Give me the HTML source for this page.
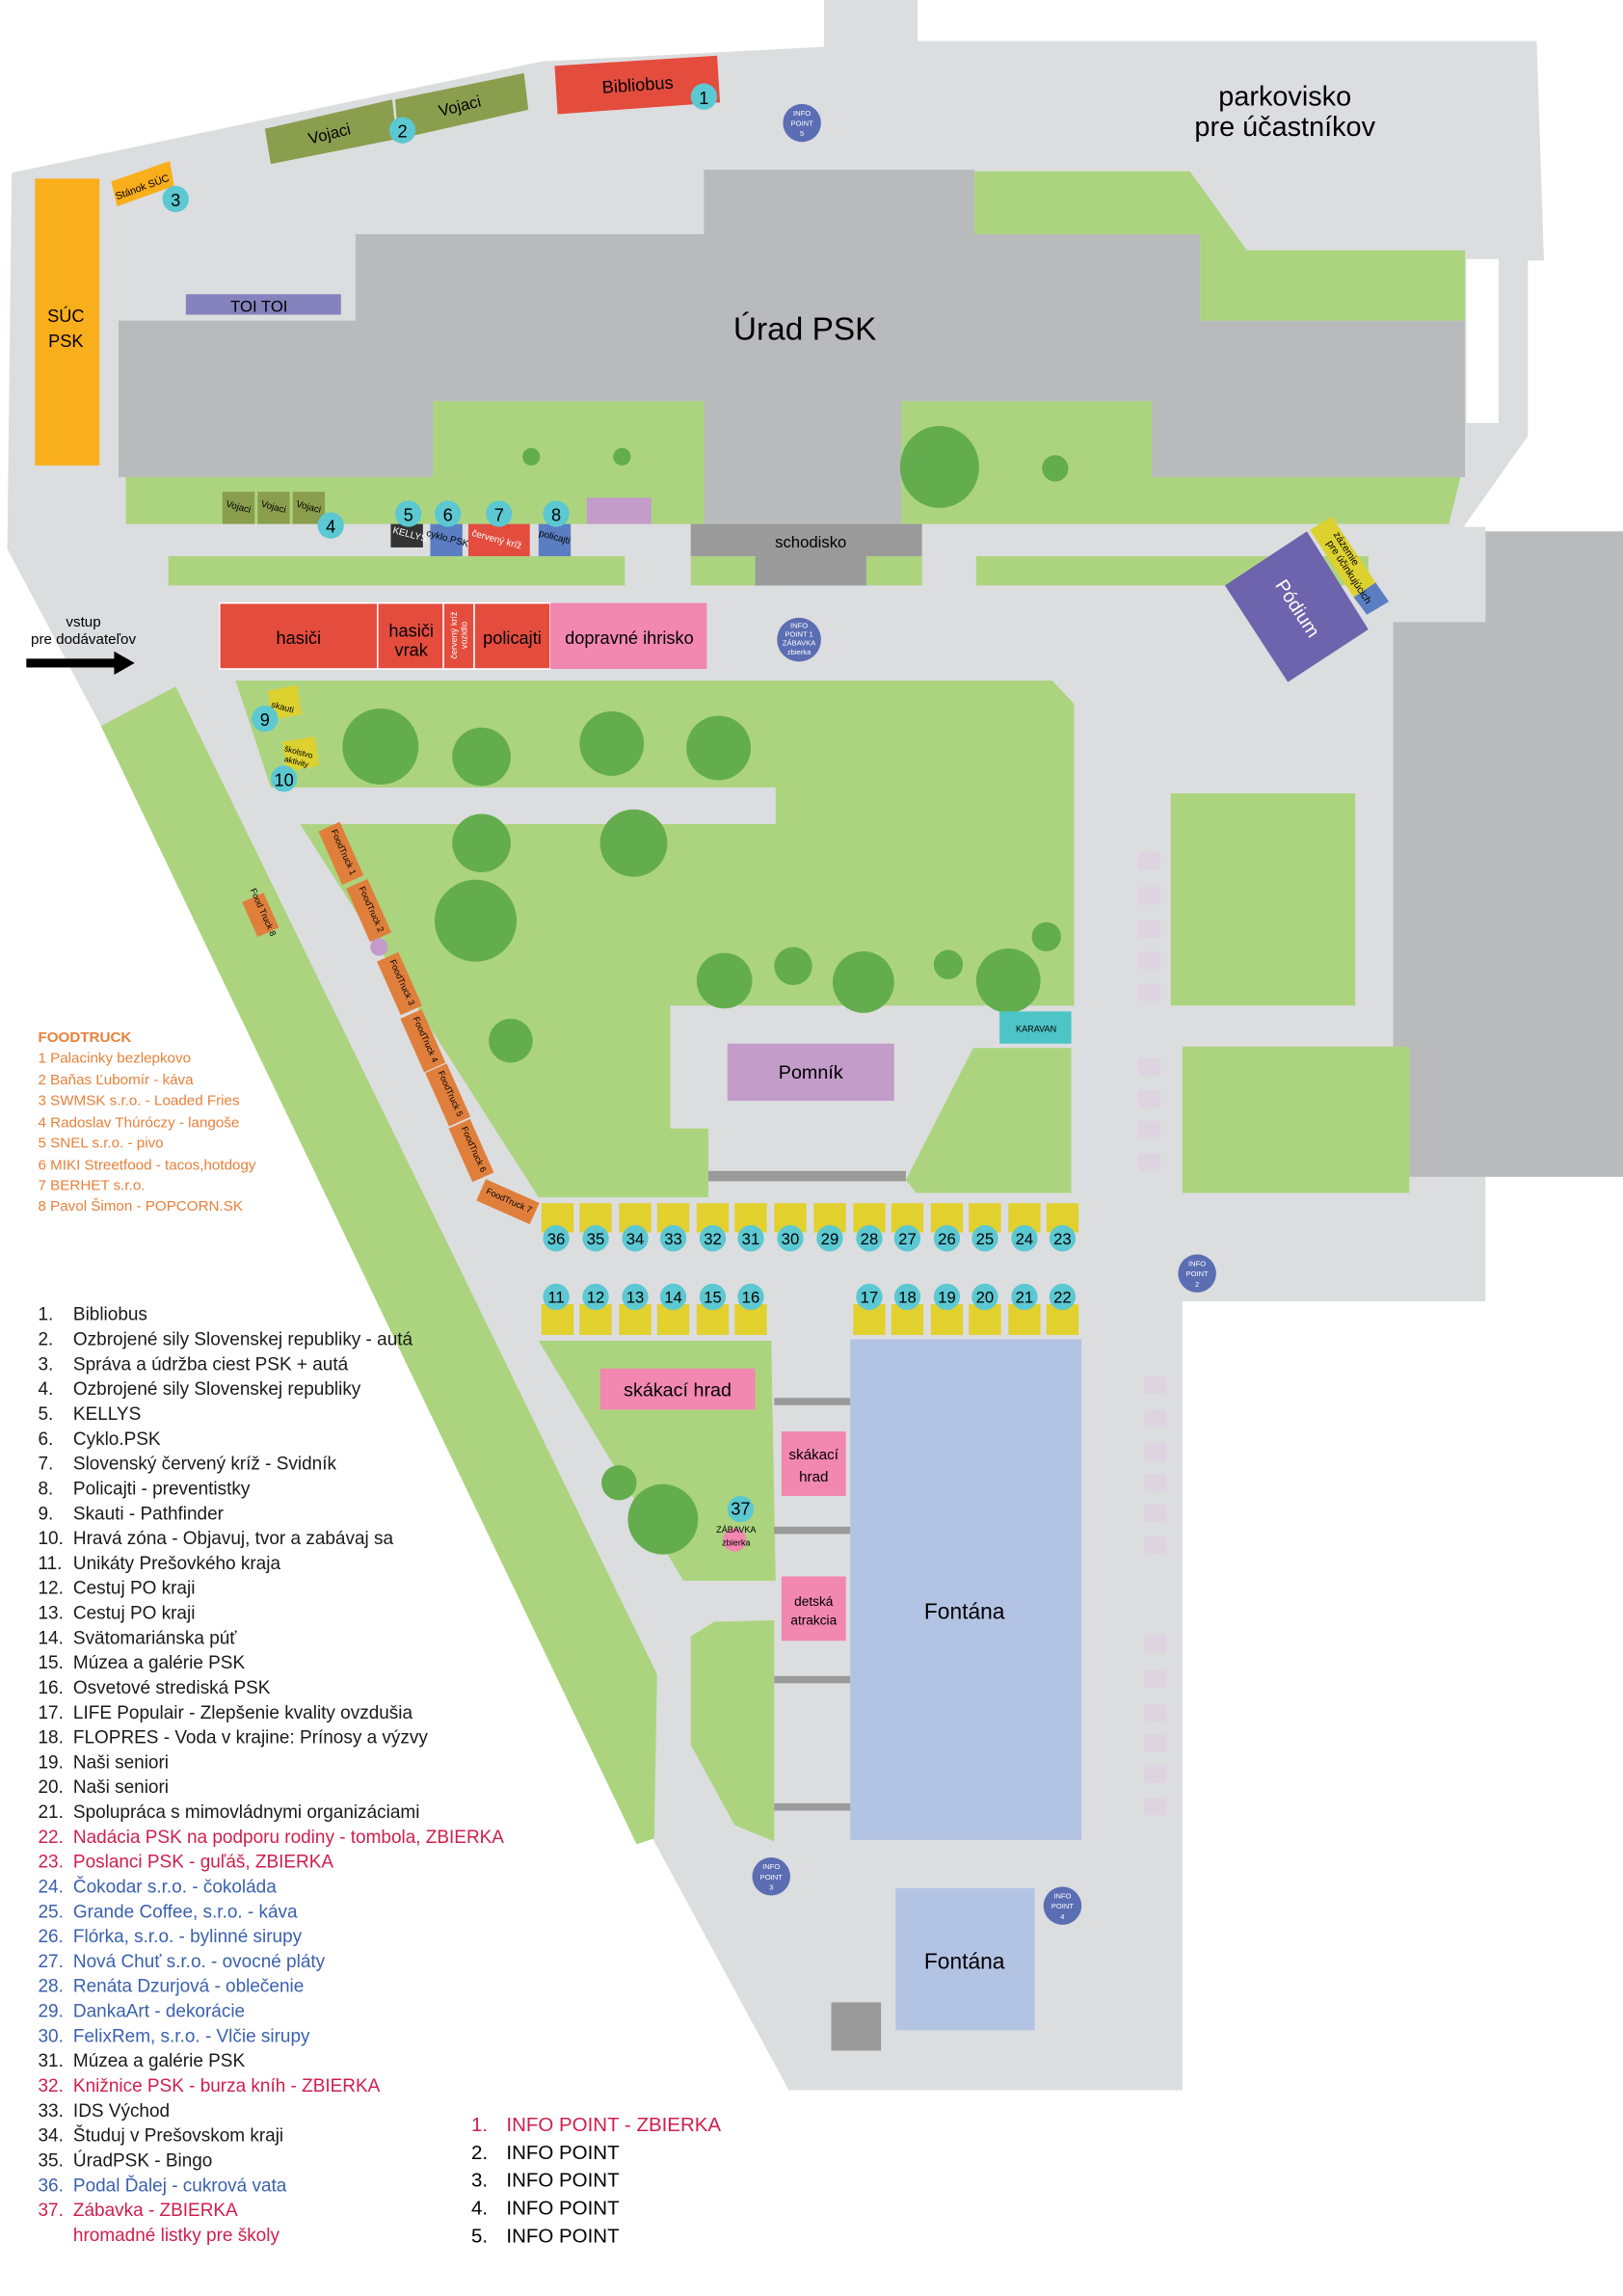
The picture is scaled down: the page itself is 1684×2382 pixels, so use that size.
<!DOCTYPE html>
<html><head><meta charset="utf-8"><style>
html,body{margin:0;padding:0;background:#fff}
svg{display:block}
text{font-family:"Liberation Sans",sans-serif}
</style></head><body>
<svg width="1684" height="2382" viewBox="0 0 1109 1568.6" preserveAspectRatio="none" xmlns="http://www.w3.org/2000/svg">
<polygon fill="#dcdddf" points="8,118 370,42 563,32 563,0 627,0 627,28 1050,28 1055,178 1044,178 1044,298 1000,360 1015,360 1015,889 808,889 808,1428 539,1428 447,1258 69,496 5,375"/>
<rect x="1002" y="177" width="22" height="112" fill="#fff"/>
<polygon fill="#b9babc" points="1015,363 1109,363 1109,804 952,804 952,425 1015,425"/>
<polygon fill="#b9babc" points="481,116 666,116 666,160 820,160 820,219 1001,219 1001,326 787,326 787,274 616,274 616,358 481,358 481,274 296,274 296,326 81,326 81,219 243,219 243,160 481,160"/>
<g fill="#acd47f">
<polygon points="666,117 813,117 852,171 1001,171 1001,219 820,219 820,160 666,160"/>
<polygon points="86,326 296,326 296,274 481,274 481,358 86,358"/>
<polygon points="616,274 787,274 787,326 998,326 990,358 616,358"/>
<rect x="115" y="380" width="312" height="20"/>
<rect x="472" y="380" width="44" height="20"/>
<rect x="592" y="380" width="38" height="20"/>
<rect x="667" y="380" width="268" height="20"/>
</g>
<rect x="472" y="358" width="158" height="22" fill="#9a9a9b"/>
<rect x="516" y="380" width="76" height="20" fill="#9a9a9b"/>
<text x="554" y="374" font-size="11" text-anchor="middle">schodisko</text>
<g fill="#64ad4e">
<ellipse cx="363" cy="312" rx="6" ry="6"/><ellipse cx="425" cy="312" rx="6" ry="6"/>
<ellipse cx="642" cy="319" rx="27" ry="28"/><ellipse cx="721" cy="320" rx="9" ry="9"/>
</g>
<polygon fill="#e44c3e" points="379,45 490,38 492,70 381,78"/>
<text x="436" y="62" font-size="12" text-anchor="middle" transform="rotate(-4 436 62)">Bibliobus</text>
<polygon fill="#8a9e4e" points="181,88 268,68 271,95 185,112"/>
<polygon fill="#8a9e4e" points="270,68 358,50 361,75 272,95"/>
<text x="226" y="95" font-size="11" text-anchor="middle" transform="rotate(-14 226 95)">Vojaci</text>
<text x="315" y="76" font-size="11" text-anchor="middle" transform="rotate(-14 315 76)">Vojaci</text>
<polygon fill="#f9ae1b" points="76,124 116,110 119,127 80,141"/>
<text x="98" y="130" font-size="7" text-anchor="middle" transform="rotate(-20 98 130)">Stánok SÚC</text>
<rect x="24" y="122" width="44" height="196" fill="#f9ae1b"/>
<text x="45" y="220" font-size="12" text-anchor="middle">SÚC</text>
<text x="45" y="237" font-size="12" text-anchor="middle">PSK</text>
<rect x="127" y="201" width="106" height="14" fill="#8582be"/>
<text x="177" y="213" font-size="11" text-anchor="middle">TOI TOI</text>
<text x="878" y="72" font-size="19" text-anchor="middle">parkovisko</text>
<text x="878" y="93" font-size="19" text-anchor="middle">pre účastníkov</text>
<text x="550" y="232" font-size="22" text-anchor="middle">Úrad PSK</text>
<g fill="#8a9e4e"><rect x="152" y="336" width="22" height="22"/><rect x="176" y="336" width="22" height="22"/><rect x="200" y="336" width="22" height="22"/></g>
<g font-size="6.5"><text x="154" y="346" transform="rotate(15 154 346)">Vojaci</text><text x="178" y="346" transform="rotate(15 178 346)">Vojaci</text><text x="202" y="346" transform="rotate(15 202 346)">Vojaci</text></g>
<rect x="267" y="358" width="22" height="16" fill="#333"/>
<rect x="294" y="358" width="22" height="22" fill="#5b7ec2"/>
<rect x="320" y="358" width="42" height="22" fill="#e44c3e"/>
<rect x="368" y="358" width="22" height="22" fill="#5b7ec2"/>
<rect x="401" y="340" width="44" height="18" fill="#c39cc9"/>
<g font-size="6.5"><text x="268" y="364" fill="#fff" transform="rotate(15 268 364)">KELLYS</text><text x="291" y="366" transform="rotate(15 291 366)">cyklo.PSK</text><text x="322" y="366" fill="#fff" transform="rotate(15 322 366)">červený kríž</text><text x="368" y="366" transform="rotate(15 368 366)">policajti</text></g>
<g fill="#e44c3e" stroke="#fff" stroke-width="1"><rect x="150" y="412" width="108" height="45"/><rect x="258" y="412" width="45" height="45"/><rect x="303" y="412" width="21" height="45"/><rect x="324" y="412" width="52" height="45"/></g>
<rect x="376" y="412" width="107" height="45" fill="#f287b0"/>
<g font-size="12" text-anchor="middle"><text x="204" y="440">hasiči</text><text x="281" y="435">hasiči</text><text x="281" y="448">vrak</text><text x="350" y="440">policajti</text><text x="430" y="440">dopravné ihrisko</text></g>
<text x="0" y="0" font-size="6" fill="#fff" text-anchor="middle" transform="translate(312 434) rotate(-90)">červený kríž</text>
<text x="0" y="0" font-size="6" fill="#fff" text-anchor="middle" transform="translate(319 434) rotate(-90)">vozidlo</text>
<text x="57" y="428" font-size="10" text-anchor="middle">vstup</text>
<text x="57" y="440" font-size="10" text-anchor="middle">pre dodávateľov</text>
<rect x="18" y="450" width="62" height="6" fill="#000"/>
<polygon points="78,445 92,453 78,461" fill="#000"/>
<polygon fill="#6e63ad" points="837,400 893,363 935,430 880,466"/>
<polygon fill="#ddd12f" points="895,362 910,353 940,398 925,408"/>
<polygon fill="#5b7ec2" points="925,408 940,398 949,411 934,420"/>
<text x="0" y="0" font-size="13" fill="#fff" text-anchor="middle" transform="translate(883 418) rotate(57)">Pódium</text>
<text x="0" y="0" font-size="7" text-anchor="middle" transform="translate(918 376) rotate(57)">zázemie</text>
<text x="0" y="0" font-size="7" text-anchor="middle" transform="translate(920 392) rotate(57)">pre účinkujúcich</text>
<polygon fill="#acd47f" points="69,496 120,469 309,856 449,1144 447,1256 435,1260"/>
<polygon fill="#acd47f" points="161,465 719,465 734,481 734,687 458,687 458,771 484,771 484,818 368,818 205,563 530,563 530,538 185,538"/>
<polygon fill="#acd47f" points="665,716 732,716 732,815 626,815 619,806"/>
<rect x="484" y="800" width="135" height="7" fill="#9a9a9b"/>
<g fill="#64ad4e">
<circle cx="260" cy="510" r="26"/><circle cx="329" cy="517" r="20"/><circle cx="418" cy="508" r="22"/><circle cx="491" cy="511" r="22"/>
<circle cx="329" cy="576" r="20"/><circle cx="433" cy="576" r="23"/><circle cx="325" cy="629" r="28"/>
<circle cx="495" cy="670" r="19"/><circle cx="542" cy="660" r="13"/><circle cx="590" cy="671" r="21"/><circle cx="648" cy="659" r="10"/><circle cx="689" cy="670" r="22"/><circle cx="715" cy="640" r="10"/><circle cx="349" cy="711" r="15"/>
</g>
<rect x="683" y="691" width="49" height="22" fill="#4dc4c5"/>
<text x="708" y="705" font-size="6" text-anchor="middle">KARAVAN</text>
<rect x="497" y="713" width="114" height="39" fill="#c39cc9"/>
<text x="554" y="737" font-size="13" text-anchor="middle">Pomník</text>
<rect x="800" y="542" width="126" height="145" fill="#acd47f"/>
<rect x="808" y="715" width="155" height="100" fill="#acd47f"/>
<g fill="#ddd4e0">
<rect x="778" y="582" width="15" height="12"/><rect x="778" y="606" width="15" height="12"/><rect x="778" y="629" width="15" height="12"/><rect x="778" y="650" width="15" height="12"/><rect x="778" y="672" width="15" height="12"/>
<rect x="778" y="723" width="15" height="12"/><rect x="778" y="745" width="15" height="12"/><rect x="778" y="766" width="15" height="12"/><rect x="778" y="788" width="15" height="12"/>
<rect x="782" y="940" width="15" height="12"/><rect x="782" y="963" width="15" height="12"/><rect x="782" y="986" width="15" height="12"/><rect x="782" y="1007" width="15" height="12"/><rect x="782" y="1028" width="15" height="12"/><rect x="782" y="1050" width="15" height="12"/>
<rect x="782" y="1117" width="15" height="12"/><rect x="782" y="1141" width="15" height="12"/><rect x="782" y="1164" width="15" height="12"/><rect x="782" y="1185" width="15" height="12"/><rect x="782" y="1206" width="15" height="12"/><rect x="782" y="1228" width="15" height="12"/>
</g>
<g fill="#e07f3c">
<rect x="-8" y="-20" width="16" height="40" transform="translate(233 583) rotate(-24)"/>
<rect x="-8" y="-20" width="16" height="40" transform="translate(252 622) rotate(-24)"/>
<rect x="-8" y="-20" width="16" height="40" transform="translate(273 672) rotate(-24)"/>
<rect x="-8" y="-20" width="16" height="40" transform="translate(289 711) rotate(-24)"/>
<rect x="-8" y="-20" width="16" height="40" transform="translate(306 748) rotate(-24)"/>
<rect x="-8" y="-20" width="16" height="40" transform="translate(322 786) rotate(-24)"/>
<rect x="-8" y="-20" width="16" height="40" transform="translate(347 821) rotate(-66)"/>
<rect x="-8" y="-13" width="16" height="26" transform="translate(178 625) rotate(-24)"/>
</g>
<g font-size="6">
<text text-anchor="middle" transform="translate(233 583) rotate(66)">FoodTruck 1</text>
<text text-anchor="middle" transform="translate(252 622) rotate(66)">FoodTruck 2</text>
<text text-anchor="middle" transform="translate(273 672) rotate(66)">FoodTruck 3</text>
<text text-anchor="middle" transform="translate(289 711) rotate(66)">FoodTruck 4</text>
<text text-anchor="middle" transform="translate(306 748) rotate(66)">FoodTruck 5</text>
<text text-anchor="middle" transform="translate(322 786) rotate(66)">FoodTruck 6</text>
<text text-anchor="middle" transform="translate(347 822) rotate(24)">FoodTruck 7</text>
<text text-anchor="middle" transform="translate(178 624) rotate(66)">Food Truck 8</text>
</g>
<circle cx="259" cy="647" r="6" fill="#c39cc9"/>
<polygon fill="#ddd12f" points="183,472 203,468 206,488 186,492"/>
<text x="185" y="483" font-size="6" transform="rotate(15 185 483)">skauti</text>
<polygon fill="#ddd12f" points="193,507 215,503 218,523 196,527"/>
<text x="194" y="513" font-size="5.5" transform="rotate(15 194 513)">školstvo</text>
<text x="194" y="520" font-size="5.5" transform="rotate(15 194 520)">aktivity</text>
<g font-size="10" fill="#e8803a">
<text x="26" y="712" font-weight="bold">FOODTRUCK</text>
<text x="26" y="726">1 Palacinky bezlepkovo</text>
<text x="26" y="741">2 Baňas Ľubomír - káva</text>
<text x="26" y="755">3 SWMSK s.r.o. - Loaded Fries</text>
<text x="26" y="770">4 Radoslav Thúróczy - langoše</text>
<text x="26" y="784">5 SNEL s.r.o. - pivo</text>
<text x="26" y="799">6 MIKI Streetfood - tacos,hotdogy</text>
<text x="26" y="813">7 BERHET s.r.o.</text>
<text x="26" y="827">8 Pavol Šimon - POPCORN.SK</text>
</g>
<g fill="#e2d02f">
<rect x="370" y="822" width="22" height="20"/><rect x="396" y="822" width="22" height="20"/><rect x="423" y="822" width="22" height="20"/><rect x="449" y="822" width="22" height="20"/><rect x="476" y="822" width="22" height="20"/><rect x="502" y="822" width="22" height="20"/><rect x="529" y="822" width="22" height="20"/><rect x="556" y="822" width="22" height="20"/><rect x="583" y="822" width="22" height="20"/><rect x="609" y="822" width="22" height="20"/><rect x="636" y="822" width="22" height="20"/><rect x="662" y="822" width="22" height="20"/><rect x="689" y="822" width="22" height="20"/><rect x="715" y="822" width="22" height="20"/>
<rect x="370" y="891" width="22" height="21"/><rect x="396" y="891" width="22" height="21"/><rect x="423" y="891" width="22" height="21"/><rect x="449" y="891" width="22" height="21"/><rect x="476" y="891" width="22" height="21"/><rect x="502" y="891" width="22" height="21"/>
<rect x="583" y="891" width="22" height="21"/><rect x="609" y="891" width="22" height="21"/><rect x="636" y="891" width="22" height="21"/><rect x="662" y="891" width="22" height="21"/><rect x="689" y="891" width="22" height="21"/><rect x="715" y="891" width="22" height="21"/>
</g>
<polygon fill="#acd47f" points="368,916 527,916 530,1080 467,1080"/>
<polygon fill="#acd47f" points="472,1118 488,1108 529,1107 529,1258 502,1247 472,1192"/>
<g fill="#9a9a9b"><rect x="529" y="955" width="52" height="5"/><rect x="529" y="1043" width="52" height="5"/><rect x="529" y="1145" width="52" height="5"/><rect x="529" y="1232" width="52" height="5"/></g>
<rect x="410" y="935" width="106" height="28" fill="#f287b0"/>
<text x="463" y="954" font-size="13" text-anchor="middle">skákací hrad</text>
<rect x="534" y="978" width="44" height="44" fill="#f287b0"/>
<text x="556" y="997" font-size="10" text-anchor="middle">skákací</text><text x="556" y="1012" font-size="10" text-anchor="middle">hrad</text>
<rect x="534" y="1077" width="44" height="44" fill="#f287b0"/>
<text x="556" y="1097" font-size="9" text-anchor="middle">detská</text><text x="556" y="1110" font-size="9" text-anchor="middle">atrakcia</text>
<rect x="581" y="915" width="158" height="342" fill="#b3c3e3"/>
<text x="659" y="1106" font-size="15" text-anchor="middle">Fontána</text>
<rect x="612" y="1290" width="95" height="97" fill="#b3c3e3"/>
<text x="659" y="1345" font-size="15" text-anchor="middle">Fontána</text>
<rect x="568" y="1368" width="34" height="33" fill="#9a9a9b"/>
<circle cx="423" cy="1013" r="12" fill="#64ad4e"/><circle cx="453" cy="1038" r="24" fill="#64ad4e"/>
<circle cx="502" cy="1052" r="8" fill="#f287b0"/>
<text x="503" y="1047" font-size="6" text-anchor="middle">ZÁBAVKA</text><text x="503" y="1056" font-size="6" text-anchor="middle">zbierka</text>
<g fill="#5bc8d2">
<circle cx="481" cy="66" r="9"/><circle cx="275" cy="89" r="9"/><circle cx="120" cy="136" r="9"/><circle cx="226" cy="359" r="9"/>
<circle cx="279" cy="351" r="9"/><circle cx="306" cy="351" r="9"/><circle cx="341" cy="351" r="9"/><circle cx="380" cy="351" r="9"/>
<circle cx="181" cy="491" r="9"/><circle cx="194" cy="532" r="9"/><circle cx="506" cy="1031" r="9"/>
<circle cx="380" cy="846" r="9"/><circle cx="407" cy="846" r="9"/><circle cx="434" cy="846" r="9"/><circle cx="460" cy="846" r="9"/><circle cx="487" cy="846" r="9"/><circle cx="513" cy="846" r="9"/><circle cx="540" cy="846" r="9"/><circle cx="567" cy="846" r="9"/><circle cx="594" cy="846" r="9"/><circle cx="620" cy="846" r="9"/><circle cx="647" cy="846" r="9"/><circle cx="673" cy="846" r="9"/><circle cx="700" cy="846" r="9"/><circle cx="726" cy="846" r="9"/>
<circle cx="380" cy="886" r="9"/><circle cx="407" cy="886" r="9"/><circle cx="434" cy="886" r="9"/><circle cx="460" cy="886" r="9"/><circle cx="487" cy="886" r="9"/><circle cx="513" cy="886" r="9"/>
<circle cx="594" cy="886" r="9"/><circle cx="620" cy="886" r="9"/><circle cx="647" cy="886" r="9"/><circle cx="673" cy="886" r="9"/><circle cx="700" cy="886" r="9"/><circle cx="726" cy="886" r="9"/>
</g>
<g font-size="12" text-anchor="middle">
<text x="481" y="71">1</text><text x="275" y="94">2</text><text x="120" y="141">3</text><text x="226" y="364">4</text>
<text x="279" y="356">5</text><text x="306" y="356">6</text><text x="341" y="356">7</text><text x="380" y="356">8</text>
<text x="181" y="496">9</text><text x="194" y="537">10</text><text x="506" y="1035">37</text>
</g>
<g font-size="11" text-anchor="middle">
<text x="380" y="850">36</text><text x="407" y="850">35</text><text x="434" y="850">34</text><text x="460" y="850">33</text><text x="487" y="850">32</text><text x="513" y="850">31</text><text x="540" y="850">30</text><text x="567" y="850">29</text><text x="594" y="850">28</text><text x="620" y="850">27</text><text x="647" y="850">26</text><text x="673" y="850">25</text><text x="700" y="850">24</text><text x="726" y="850">23</text>
<text x="380" y="890">11</text><text x="407" y="890">12</text><text x="434" y="890">13</text><text x="460" y="890">14</text><text x="487" y="890">15</text><text x="513" y="890">16</text>
<text x="594" y="890">17</text><text x="620" y="890">18</text><text x="647" y="890">19</text><text x="673" y="890">20</text><text x="700" y="890">21</text><text x="726" y="890">22</text>
</g>
<g fill="#5b6db3"><circle cx="548" cy="84" r="13"/><circle cx="546" cy="437" r="15"/><circle cx="818" cy="870" r="13"/><circle cx="527" cy="1282" r="13"/><circle cx="726" cy="1302" r="13"/></g>
<g font-size="5" fill="#fff" text-anchor="middle">
<text x="548" y="79">INFO</text><text x="548" y="86">POINT</text><text x="548" y="93">5</text>
<text x="546" y="429">INFO</text><text x="546" y="435">POINT 1</text><text x="546" y="441">ZÁBAVKA</text><text x="546" y="447">zbierka</text>
<text x="818" y="865">INFO</text><text x="818" y="872">POINT</text><text x="818" y="879">2</text>
<text x="527" y="1277">INFO</text><text x="527" y="1284">POINT</text><text x="527" y="1291">3</text>
<text x="726" y="1297">INFO</text><text x="726" y="1304">POINT</text><text x="726" y="1311">4</text>
</g>
<g font-size="12.5">
<g fill="#1a1a1a">
<text x="26" y="902">1.</text><text x="50" y="902">Bibliobus</text>
<text x="26" y="919">2.</text><text x="50" y="919">Ozbrojené sily Slovenskej republiky - autá</text>
<text x="26" y="936">3.</text><text x="50" y="936">Správa a údržba ciest PSK + autá</text>
<text x="26" y="953">4.</text><text x="50" y="953">Ozbrojené sily Slovenskej republiky</text>
<text x="26" y="970">5.</text><text x="50" y="970">KELLYS</text>
<text x="26" y="987">6.</text><text x="50" y="987">Cyklo.PSK</text>
<text x="26" y="1004">7.</text><text x="50" y="1004">Slovenský červený kríž - Svidník</text>
<text x="26" y="1021">8.</text><text x="50" y="1021">Policajti - preventistky</text>
<text x="26" y="1038">9.</text><text x="50" y="1038">Skauti - Pathfinder</text>
<text x="26" y="1055">10.</text><text x="50" y="1055">Hravá zóna - Objavuj, tvor a zabávaj sa</text>
<text x="26" y="1072">11.</text><text x="50" y="1072">Unikáty Prešovkého kraja</text>
<text x="26" y="1089">12.</text><text x="50" y="1089">Cestuj PO kraji</text>
<text x="26" y="1106">13.</text><text x="50" y="1106">Cestuj PO kraji</text>
<text x="26" y="1123">14.</text><text x="50" y="1123">Svätomariánska púť</text>
<text x="26" y="1140">15.</text><text x="50" y="1140">Múzea a galérie PSK</text>
<text x="26" y="1157">16.</text><text x="50" y="1157">Osvetové strediská PSK</text>
<text x="26" y="1174">17.</text><text x="50" y="1174">LIFE Populair - Zlepšenie kvality ovzdušia</text>
<text x="26" y="1191">18.</text><text x="50" y="1191">FLOPRES - Voda v krajine: Prínosy a výzvy</text>
<text x="26" y="1208">19.</text><text x="50" y="1208">Naši seniori</text>
<text x="26" y="1225">20.</text><text x="50" y="1225">Naši seniori</text>
<text x="26" y="1242">21.</text><text x="50" y="1242">Spolupráca s mimovládnymi organizáciami</text>
<text x="26" y="1412">31.</text><text x="50" y="1412">Múzea a galérie PSK</text>
<text x="26" y="1446">33.</text><text x="50" y="1446">IDS Východ</text>
<text x="26" y="1463">34.</text><text x="50" y="1463">Študuj v Prešovskom kraji</text>
<text x="26" y="1480">35.</text><text x="50" y="1480">ÚradPSK - Bingo</text>
</g>
<g fill="#d01e4d">
<text x="26" y="1259">22.</text><text x="50" y="1259">Nadácia PSK na podporu rodiny - tombola, ZBIERKA</text>
<text x="26" y="1276">23.</text><text x="50" y="1276">Poslanci PSK - guľáš, ZBIERKA</text>
<text x="26" y="1429">32.</text><text x="50" y="1429">Knižnice PSK - burza kníh - ZBIERKA</text>
<text x="26" y="1514">37.</text><text x="50" y="1514">Zábavka - ZBIERKA</text>
<text x="50" y="1531">hromadné listky pre školy</text>
</g>
<g fill="#3a60b0">
<text x="26" y="1293">24.</text><text x="50" y="1293">Čokodar s.r.o. - čokoláda</text>
<text x="26" y="1310">25.</text><text x="50" y="1310">Grande Coffee, s.r.o. - káva</text>
<text x="26" y="1327">26.</text><text x="50" y="1327">Flórka, s.r.o. - bylinné sirupy</text>
<text x="26" y="1344">27.</text><text x="50" y="1344">Nová Chuť s.r.o. - ovocné pláty</text>
<text x="26" y="1361">28.</text><text x="50" y="1361">Renáta Dzurjová - oblečenie</text>
<text x="26" y="1378">29.</text><text x="50" y="1378">DankaArt - dekorácie</text>
<text x="26" y="1395">30.</text><text x="50" y="1395">FelixRem, s.r.o. - Vlčie sirupy</text>
<text x="26" y="1497">36.</text><text x="50" y="1497">Podal Ďalej - cukrová vata</text>
</g>
<g font-size="13.5">
<text x="322" y="1456" fill="#d01e4d">1.</text><text x="346" y="1456" fill="#d01e4d">INFO POINT - ZBIERKA</text>
<text x="322" y="1475">2.</text><text x="346" y="1475">INFO POINT</text>
<text x="322" y="1494">3.</text><text x="346" y="1494">INFO POINT</text>
<text x="322" y="1513">4.</text><text x="346" y="1513">INFO POINT</text>
<text x="322" y="1532">5.</text><text x="346" y="1532">INFO POINT</text>
</g>
</g>
</svg>
</body></html>
